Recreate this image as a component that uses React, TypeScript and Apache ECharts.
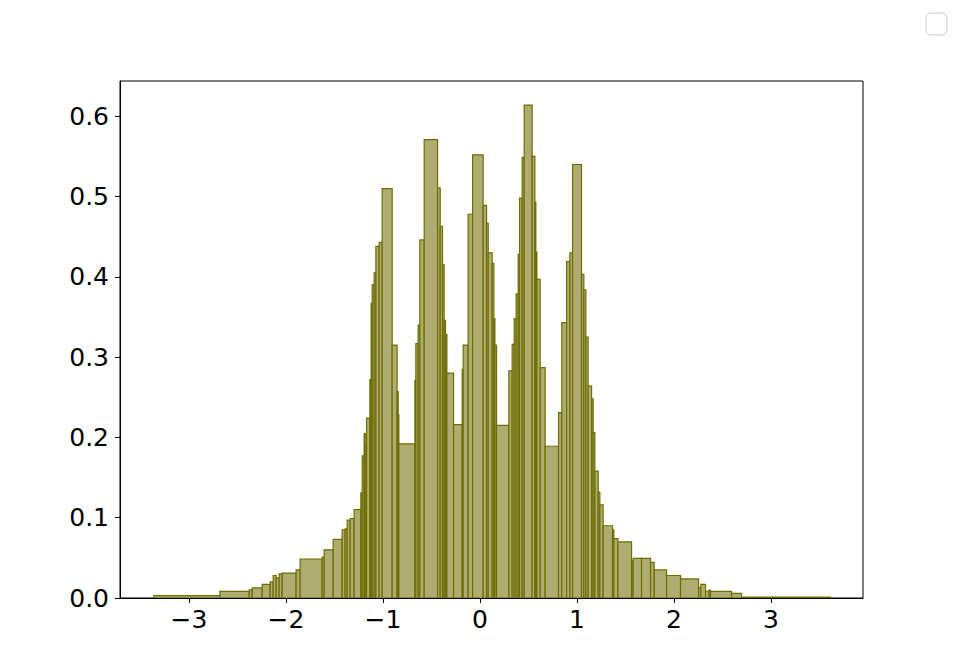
import React, { useEffect, useRef } from "react";
import * as echarts from "echarts";

const binLeft = [
  -3.361, -2.68, -2.378, -2.347, -2.244, -2.162, -2.131, -2.1, -2.069, -2.038,
  -1.894, -1.853, -1.626, -1.605, -1.512, -1.42, -1.389, -1.368, -1.337, -1.296,
  -1.227, -1.213, -1.193, -1.182, -1.168, -1.134, -1.121, -1.11, -1.09, -1.072,
  -1.038, -1.007, -0.904, -0.853, -0.842, -0.835, -0.67, -0.66, -0.636, -0.619,
  -0.574, -0.436, -0.409, -0.385, -0.368, -0.354, -0.34, -0.271, -0.182, -0.172,
  -0.121, -0.075, 0.034, 0.069, 0.086, 0.127, 0.144, 0.155, 0.172, 0.299,
  0.333, 0.354, 0.374, 0.395, 0.409, 0.436, 0.457, 0.539, 0.567, 0.577,
  0.588, 0.622, 0.673, 0.811, 0.845, 0.894, 0.928, 0.956, 1.048, 1.072,
  1.093, 1.116, 1.152, 1.168, 1.186, 1.22, 1.237, 1.271, 1.368, 1.381,
  1.423, 1.564, 1.58, 1.667, 1.76, 1.797, 1.925, 2.069, 2.255, 2.278,
  2.327, 2.364, 2.378, 2.595, 2.698,
];
const binRight = [
  -2.68, -2.378, -2.347, -2.244, -2.162, -2.131, -2.1, -2.069, -2.038, -1.894,
  -1.853, -1.626, -1.605, -1.512, -1.42, -1.389, -1.368, -1.337, -1.296, -1.227,
  -1.213, -1.193, -1.182, -1.168, -1.134, -1.121, -1.11, -1.09, -1.072, -1.038,
  -1.007, -0.904, -0.853, -0.842, -0.835, -0.67, -0.66, -0.636, -0.619, -0.574,
  -0.436, -0.409, -0.385, -0.368, -0.354, -0.34, -0.271, -0.182, -0.172, -0.121,
  -0.075, 0.034, 0.069, 0.086, 0.127, 0.144, 0.155, 0.172, 0.299, 0.333,
  0.354, 0.374, 0.395, 0.409, 0.436, 0.457, 0.539, 0.567, 0.577, 0.588,
  0.622, 0.673, 0.811, 0.845, 0.894, 0.928, 0.956, 1.048, 1.072, 1.093,
  1.116, 1.152, 1.168, 1.186, 1.22, 1.237, 1.271, 1.368, 1.381, 1.423,
  1.564, 1.58, 1.667, 1.76, 1.797, 1.925, 2.069, 2.255, 2.278, 2.327,
  2.364, 2.378, 2.595, 2.698, 3.616,
];
const binHeight = [
  0.003, 0.0083, 0.01, 0.0125, 0.017, 0.02, 0.028, 0.025, 0.03, 0.031,
  0.035, 0.0486, 0.051, 0.06, 0.073, 0.085, 0.086, 0.097, 0.099, 0.11,
  0.131, 0.177, 0.205, 0.19, 0.224, 0.272, 0.367, 0.39, 0.405, 0.438,
  0.443, 0.51, 0.315, 0.257, 0.228, 0.192, 0.271, 0.317, 0.34, 0.446,
  0.571, 0.511, 0.463, 0.415, 0.346, 0.328, 0.28, 0.216, 0.285, 0.315,
  0.478, 0.552, 0.489, 0.467, 0.43, 0.417, 0.348, 0.315, 0.215, 0.283,
  0.316, 0.348, 0.379, 0.428, 0.498, 0.549, 0.614, 0.55, 0.493, 0.431,
  0.397, 0.287, 0.189, 0.231, 0.343, 0.419, 0.43, 0.54, 0.403, 0.384,
  0.325, 0.264, 0.248, 0.206, 0.158, 0.132, 0.116, 0.09, 0.085, 0.074,
  0.07, 0.0465, 0.0494, 0.0494, 0.0444, 0.035, 0.028, 0.0237, 0.013, 0.017,
  0.0087, 0.0097, 0.0083, 0.0058, 0.0012,
];
const xTicks = [-3, -2, -1, 0, 1, 2, 3];
const yTicks = [0, 0.1, 0.2, 0.3, 0.4, 0.5, 0.6];

const FONT = "DejaVu Sans";

export default function App() {
  const ref = useRef<HTMLDivElement>(null);
  useEffect(() => {
    if (!ref.current) return;
    const chart = echarts.init(ref.current, null, { renderer: "svg" });
    const data = binLeft.map((l, i) => [l, binRight[i], binHeight[i]]);
    chart.setOption({
      animation: false,
      backgroundColor: "#ffffff",
      grid: {
        left: 120,
        right: 97,
        top: 81,
        bottom: 74,
        show: true,
        borderColor: "#000000",
        borderWidth: 1,
        backgroundColor: "transparent",
      },
      xAxis: {
        type: "value",
        min: -3.71,
        max: 3.95,
        splitLine: { show: false },
        axisLine: { show: true, onZero: false, lineStyle: { color: "#000" } },
        axisTick: {
          show: true,
          length: 5,
          customValues: xTicks,
          lineStyle: { color: "#000" },
        },
        axisLabel: {
          customValues: xTicks,
          color: "#000",
          fontFamily: FONT,
          fontSize: 25,
          margin: 9,
          hideOverlap: false,
          formatter: (v: number) => (v < 0 ? "\u2212" + Math.abs(v) : String(v)),
        },
      },
      yAxis: {
        type: "value",
        min: 0,
        max: 0.644,
        splitLine: { show: false },
        axisLine: { show: true, onZero: false, lineStyle: { color: "#000" } },
        axisTick: {
          show: true,
          length: 5,
          customValues: yTicks,
          lineStyle: { color: "#000" },
        },
        axisLabel: {
          customValues: yTicks,
          color: "#000",
          fontFamily: FONT,
          fontSize: 25,
          margin: 11,
          hideOverlap: false,
          formatter: (v: number) => v.toFixed(1),
        },
      },
      graphic: [
        {
          type: "rect",
          shape: { x: 926, y: 13, width: 21, height: 22, r: 5 },
          style: { fill: "#ffffff", stroke: "#cccccc", lineWidth: 1 },
        },
      ],
      series: [
        {
          type: "custom",
          data,
          encode: { x: [0, 1], y: 2 },
          clip: true,
          renderItem: (params: any, api: any) => {
            const x0 = api.value(0);
            const x1 = api.value(1);
            const h = api.value(2);
            const p0 = api.coord([x0, 0]);
            const p1 = api.coord([x1, h]);
            return {
              type: "rect",
              shape: {
                x: p0[0],
                y: p1[1],
                width: p1[0] - p0[0],
                height: p0[1] - p1[1],
              },
              style: {
                fill: "#aeac70",
                stroke: "#6e6e05",
                lineWidth: 1.2,
              },
            };
          },
        },
      ],
    });
    return () => chart.dispose();
  }, []);
  return <div ref={ref} style={{ width: 960, height: 672, marginLeft: -8, marginTop: -8 }} />;
}
